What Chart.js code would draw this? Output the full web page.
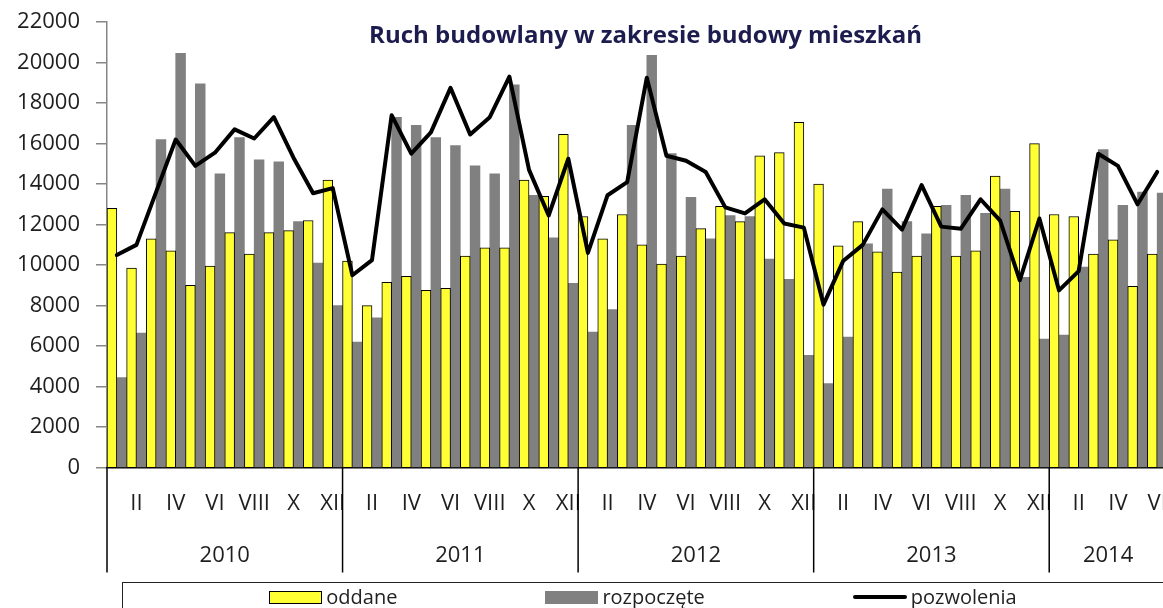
<!DOCTYPE html>
<html><head><meta charset="utf-8">
<script src="https://cdn.jsdelivr.net/npm/chart.js@4.4.1/dist/chart.umd.min.js"></script>
<style>
html,body{margin:0;padding:0;overflow:hidden;background:#fff;}
#wrap{position:relative;width:1167px;height:608px;}
canvas{display:block;}
#title{position:absolute;top:22px;left:645.5px;transform:translateX(-50%);white-space:nowrap;font:bold 24px/24px 'Open Sans';color:#1c1c4e;pointer-events:none;}
#legend{position:absolute;left:122px;top:582px;width:1042px;height:60px;box-sizing:border-box;border:1px solid #222;display:flex;justify-content:center;align-items:flex-start;gap:148px;padding-top:4px;font:20px/20px 'Open Sans';color:#222;}
.item{display:flex;align-items:center;height:20px;white-space:nowrap;}
.sw{margin-right:4px;box-sizing:border-box;display:inline-block;}
</style></head><body>
<div id="wrap"><canvas id="c" width="1167" height="608"></canvas>
<div id="title">Ruch budowlany w zakresie budowy mieszkań</div>
<div id="legend"></div></div>
<script>
// ---- data ----
const years = ['2010', '2011', '2012', '2013', '2014'];
const monthsPerYear = [12, 12, 12, 12, 6];
const romanMonths = ['I', 'II', 'III', 'IV', 'V', 'VI', 'VII', 'VIII', 'IX', 'X', 'XI', 'XII'];
const yTickMax = 22000;
const yTickStep = 2000;

const oddane = [
  12800, 9850, 11300, 10700, 9000, 9950, 11600, 10550, 11600, 11700, 12200, 14200,
  10200, 8000, 9150, 9450, 8750, 8850, 10450, 10850, 10850, 14200, 13400, 16450,
  12400, 11300, 12500, 11000, 10050, 10450, 11800, 12900, 12150, 15400, 15550, 17050,
  14000, 10950, 12150, 10650, 9650, 10450, 12900, 10450, 10700, 14400, 12650, 16000,
  12500, 12400, 10550, 11250, 8950, 10550
];
const rozpoczete = [
  4450, 6650, 16200, 20450, 18950, 14500, 16300, 15200, 15100, 12150, 10100, 8000,
  6200, 7400, 17300, 16900, 16300, 15900, 14900, 14500, 18900, 13450, 11350, 9100,
  6700, 7800, 16900, 20350, 15500, 13350, 11300, 12450, 12400, 10300, 9300, 5550,
  4150, 6450, 11050, 13750, 12150, 11550, 12950, 13450, 12550, 13750, 9400, 6350,
  6550, 9900, 15700, 12950, 13600, 13550
];
const pozwolenia = [
  10500, 11000, 13600, 16200, 14900, 15550, 16700, 16250, 17300, 15300, 13550, 13800,
  9500, 10250, 17400, 15500, 16550, 18750, 16450, 17300, 19300, 14700, 12450, 15250,
  10600, 13450, 14100, 19250, 15400, 15150, 14600, 12850, 12550, 13250, 12050, 11850,
  8050, 10200, 11000, 12750, 11750, 13950, 11900, 11800, 13250, 12200, 9250, 12300,
  8750, 9700, 15500, 14900, 13000, 14600
];

// ---- derived ----
const monthLabels = years.flatMap((y, i) => romanMonths.slice(0, monthsPerYear[i]));
const totalMonths = monthLabels.length;
const yearStarts = [];
const yearCenters = [];
{ let s = 0; monthsPerYear.forEach(n => { yearStarts.push(s); yearCenters.push(s + n / 2); s += n; }); }

Chart.defaults.font.family = "'Open Sans', 'Liberation Sans', sans-serif";
Chart.defaults.color = '#1e1e1e';

const yearSeparators = {
  id: 'yearSeparators',
  afterDraw(chart) {
    const {ctx, chartArea} = chart;
    const x2 = chart.scales.x2;
    ctx.save();
    ctx.strokeStyle = '#000';
    ctx.lineWidth = 1.5;
    yearStarts.forEach(s => {
      const px = x2.getPixelForValue(s);
      ctx.beginPath();
      ctx.moveTo(px, chartArea.bottom);
      ctx.lineTo(px, x2.bottom + 4);
      ctx.stroke();
    });
    ctx.restore();
  }
};

const chart = new Chart(document.getElementById('c'), {
  type: 'bar',
  data: {
    labels: monthLabels,
    datasets: [
      { type: 'bar', label: 'oddane', data: oddane, backgroundColor: '#FFFF33', borderColor: '#000', borderWidth: 1, borderSkipped: 'start', order: 1, categoryPercentage: 1, barPercentage: 1 },
      { type: 'bar', label: 'rozpoczęte', data: rozpoczete, backgroundColor: '#808080', borderWidth: 0, order: 1, categoryPercentage: 1, barPercentage: 1 },
      { type: 'line', label: 'pozwolenia', data: pozwolenia, borderColor: '#000', backgroundColor: '#000', borderWidth: 4, pointRadius: 0, tension: 0, borderJoinStyle: 'round', borderCapStyle: 'round', order: 0 }
    ]
  },
  options: {
    responsive: false,
    animation: false,
    layout: { padding: { left: 0, right: 0, top: 22, bottom: 39.5 } },
    plugins: { legend: { display: false }, tooltip: { enabled: false }, title: { display: false } },
    scales: {
      y: {
        min: 0, max: yTickMax,
        ticks: { stepSize: yTickStep, padding: 16, font: { size: 22 }, color: '#1e1e1e', callback: v => String(v) },
        grid: { drawOnChartArea: false, tickLength: 11, color: '#868686', lineWidth: 1.5 },
        border: { color: '#868686', width: 1.5 },
        afterFit(s) { s.width = 107; s.paddingTop = 0; s.paddingBottom = 0; }
      },
      x: {
        type: 'category', offset: true, weight: 0,
        grid: { display: true, drawOnChartArea: false, color: 'rgba(0,0,0,0)', tickLength: 23, offset: true },
        border: { display: true, color: '#000', width: 1.5 },
        ticks: {
          autoSkip: false, maxRotation: 0, minRotation: 0, padding: 0, font: { size: 22 }, color: '#1e1e1e',
          callback(value, index) { return index % 2 === 1 ? this.getLabelForValue(value) : ''; }
        },
        afterFit(s) { s.paddingLeft = 0; s.paddingRight = 0; }
      },
      x2: {
        type: 'linear', position: 'bottom', weight: 1, min: 0, max: totalMonths, offset: false,
        grid: { display: true, drawOnChartArea: false, color: 'rgba(0,0,0,0)', tickLength: 25 },
        border: { display: false },
        ticks: {
          autoSkip: false, maxRotation: 0, minRotation: 0, padding: 0, font: { size: 22 }, color: '#1e1e1e',
          callback(value) { const i = yearCenters.indexOf(value); return i >= 0 ? years[i] : ''; }
        },
        afterBuildTicks(s) { s.ticks = yearCenters.map(v => ({ value: v })); },
        afterFit(s) { s.paddingLeft = 0; s.paddingRight = 0; }
      }
    }
  },
  plugins: [yearSeparators]
});

// HTML legend built from the datasets
const legendEl = document.getElementById('legend');
chart.data.datasets.forEach(ds => {
  const item = document.createElement('div');
  item.className = 'item';
  const sw = document.createElement('span');
  sw.className = 'sw';
  if (ds.type === 'line') {
    sw.style.width = '54px'; sw.style.height = '4px'; sw.style.borderRadius = '2px';
    sw.style.background = ds.borderColor;
  } else {
    sw.style.width = '53px'; sw.style.height = '13px';
    sw.style.background = ds.backgroundColor;
    if (ds.borderWidth) sw.style.border = ds.borderWidth + 'px solid ' + ds.borderColor;
  }
  const t = document.createElement('span');
  t.textContent = ds.label;
  item.appendChild(sw); item.appendChild(t);
  legendEl.appendChild(item);
});
</script>
</body></html>
